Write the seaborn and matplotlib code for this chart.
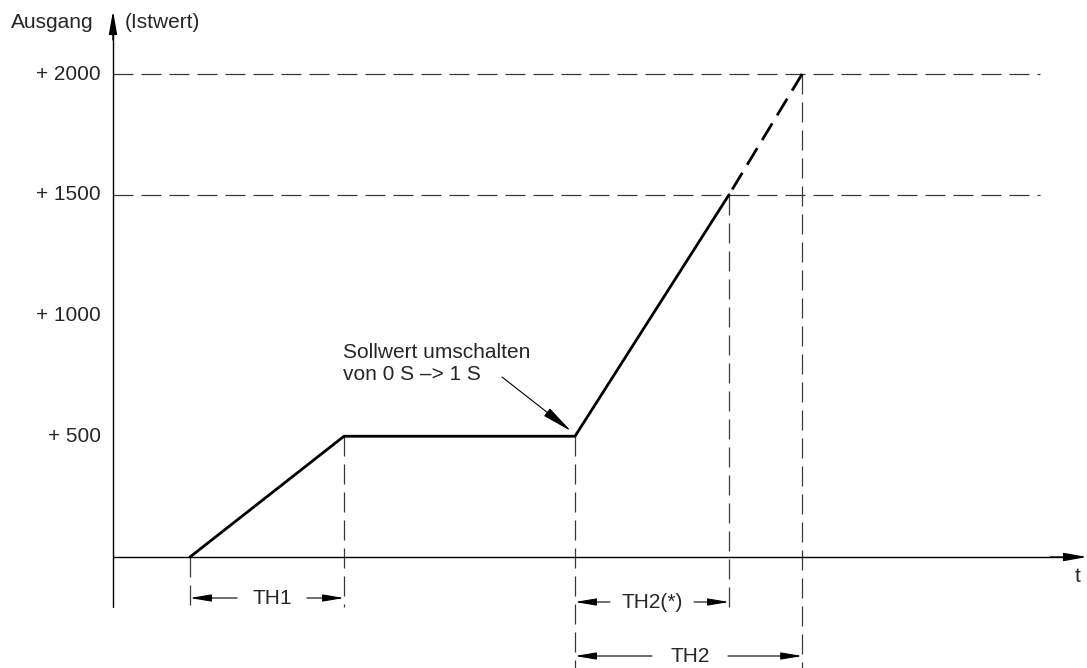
import matplotlib
matplotlib.use("Agg")
import matplotlib.pyplot as plt
import seaborn as sns
import pandas as pd

# ---- data ----
t_solid = [1, 3, 6, 8]
y_solid = [0, 500, 500, 1500]
t_dash = [8.95, 8]
y_dash = [2000, 1500]
y_ticks = [500, 1000, 1500, 2000]
y_tick_labels = ["+ 500", "+ 1000", "+ 1500", "+ 2000"]
ref_levels = [1500, 2000]
dims = [("TH1", 1, 3), ("TH2(*)", 6, 8), ("TH2", 6, 8.95)]

sns.set_style("white")
plt.rcParams['font.family'] = ['Liberation Sans', 'DejaVu Sans']

W, H = 1087, 668
fig = plt.figure(figsize=(W / 100, H / 100), dpi=100)
ax = fig.add_axes([0, 0, 1, 1])
ax.set_axis_off()

# pixel mapping (layout only)
X0, SX = 113, 77.0
Y0, SY = 557, 0.2415


def dx(px):
    return (px - X0) / SX


def dy(py):
    return (Y0 - py) / SY


ax.set_xlim(dx(0), dx(W))
ax.set_ylim(dy(H), dy(0))

dash_kw = dict(color="#3a3a3a", lw=0.9, dashes=(16, 6.4))
# horizontal reference lines
for lv in ref_levels:
    ax.plot([0, dx(1040)], [lv, lv], **dash_kw)

# vertical extension lines
ext = {1: (0, dy(607)), 3: (500, dy(607)), 6: (500, dy(H)),
       8: (1500, dy(612)), 8.95: (2000, dy(H))}
for tv, (ya, yb) in ext.items():
    ax.plot([tv, tv], [ya, yb], **dash_kw)

# axes
ax.plot([0, 0], [dy(607), dy(30)], color="black", lw=1.0)
ax.annotate("", xy=(0, dy(11)), xytext=(0, dy(40)),
            arrowprops=dict(arrowstyle="-|>,head_length=1.4,head_width=0.25",
                            color="black", lw=1.0, shrinkA=0, shrinkB=0))
ax.plot([0, dx(1070)], [0, 0], color="black", lw=1.0)
ax.annotate("", xy=(dx(1087), 0), xytext=(dx(1050), 0),
            arrowprops=dict(arrowstyle="-|>,head_length=1.4,head_width=0.25",
                            color="black", lw=1.0, shrinkA=0, shrinkB=0))

# curve
df_s = pd.DataFrame({"t": t_solid, "y": y_solid})
df_d = pd.DataFrame({"t": t_dash, "y": y_dash})
sns.lineplot(data=df_s, x="t", y="y", ax=ax, color="black", lw=2.0,
             sort=False, estimator=None)
sns.lineplot(data=df_d, x="t", y="y", ax=ax, color="black", lw=2.0,
             sort=False, estimator=None)
ax.lines[-1].set_dashes((7.0, 3.4))

# y tick labels
fs = 15
for v, lab in zip(y_ticks, y_tick_labels):
    ax.text(dx(101), v, lab, ha="right", va="center", fontsize=fs)

ax.text(dx(11), dy(22), "Ausgang", ha="left", va="center", fontsize=fs)
ax.text(dx(125), dy(22), "(Istwert)", ha="left", va="center", fontsize=fs)
ax.text(dx(1078), dy(576), "t", ha="center", va="center", fontsize=fs)

# annotation
ax.text(dx(343), dy(352), "Sollwert umschalten", ha="left", va="center", fontsize=fs)
ax.text(dx(343), dy(374), "von 0 S \u2013> 1 S", ha="left", va="center", fontsize=fs)
ax.annotate("", xy=(dx(571), dy(431)), xytext=(dx(502), dy(377)),
            arrowprops=dict(arrowstyle="-|>,head_length=1.9,head_width=0.3",
                            color="black", lw=0.8, shrinkA=0, shrinkB=0))

# dimension lines
dim_y = {"TH1": dy(598), "TH2(*)": dy(602), "TH2": dy(656)}
gaps = {"TH1": (237, 307), "TH2(*)": (610, 694), "TH2": (652, 728)}
for lab, ta, tb in dims:
    yv = dim_y[lab]
    ga, gb = gaps[lab]
    ap = dict(arrowstyle="-|>,head_length=1.3,head_width=0.22",
              color="black", lw=0.8, shrinkA=0, shrinkB=0)
    ax.annotate("", xy=(ta, yv), xytext=(dx(ga), yv), arrowprops=ap)
    ax.annotate("", xy=(tb, yv), xytext=(dx(gb), yv), arrowprops=ap)
    ax.text((dx(ga) + dx(gb)) / 2, yv, lab, ha="center", va="center", fontsize=fs)

fig.savefig("out.png", dpi=100)
